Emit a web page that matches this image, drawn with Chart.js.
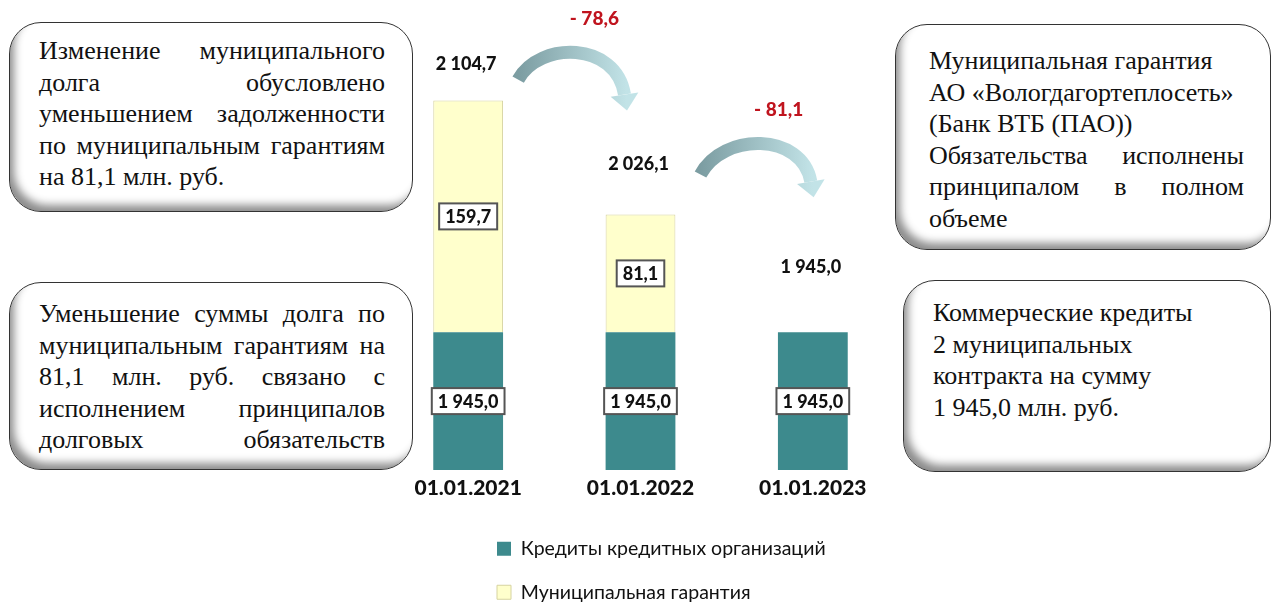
<!DOCTYPE html>
<html lang="ru">
<head>
<meta charset="UTF-8">
<title>Муниципальный долг</title>
<script src="https://cdn.jsdelivr.net/npm/chart.js@4.4.0/dist/chart.umd.min.js"></script>
<style>
    body { margin: 0; background: #fff; }
    .wrap { position: relative; width: 1272px; height: 603px; }
    #debtChart { position: absolute; left: 0; top: 0; }
    .note {
        position: absolute; box-sizing: border-box;
        border: 1px solid #333; border-radius: 32px; background: #fff;
        box-shadow: inset 7px -9px 9px -3px rgba(0,0,0,.45);
        font-family: 'Liberation Serif', 'DejaVu Serif', serif;
        font-size: 26px; line-height: 31.5px; color: #111;
    }
    .note div { white-space: nowrap; }
    .note .j { text-align: justify; text-align-last: justify; white-space: normal; }
</style>
</head>
<body>
<div class="wrap">
    <canvas id="debtChart" width="1272" height="603"></canvas>

    <div class="note" style="left:9px; top:22px; width:404px; height:190px; padding:12px 27px 0 29px;">
        <div class="j">Изменение муниципального</div>
        <div class="j">долга обусловлено</div>
        <div class="j">уменьшением задолженности</div>
        <div class="j">по муниципальным гарантиям</div>
        <div>на 81,1 млн. руб.</div>
    </div>
    <div class="note" style="left:9px; top:282px; width:404px; height:188px; padding:15px 27px 0 29px;">
        <div class="j">Уменьшение суммы долга по</div>
        <div class="j">муниципальным гарантиям на</div>
        <div class="j">81,1 млн. руб. связано с</div>
        <div class="j">исполнением принципалов</div>
        <div class="j">долговых обязательств</div>
    </div>
    <div class="note" style="left:895px; top:24px; width:376px; height:226px; padding:20px 26px 0 33px;">
        <div>Муниципальная гарантия</div>
        <div>АО «Вологдагортеплосеть»</div>
        <div>(Банк ВТБ (ПАО))</div>
        <div class="j">Обязательства исполнены</div>
        <div class="j">принципалом в полном</div>
        <div>объеме</div>
    </div>
    <div class="note" style="left:903px; top:280px; width:368px; height:192px; padding:16px 20px 0 29px;">
        <div>Коммерческие кредиты</div>
        <div>2 муниципальных</div>
        <div>контракта на сумму</div>
        <div>1 945,0 млн. руб.</div>
    </div>
</div>

<script>
    // данные, млн. руб.
    const dates = ['01.01.2021', '01.01.2022', '01.01.2023'];
    const bankCredits = [1945.0, 1945.0, 1945.0];
    const guarantees = [159.7, 81.1, 0];
    const seriesNames = ['Кредиты кредитных организаций', 'Муниципальная гарантия'];

    // 1 945,0
    function fmt(v) {
        const p = Math.abs(v).toFixed(1).split('.');
        return p[0].replace(/\B(?=(\d{3})+(?!\d))/g, ' ') + ',' + p[1];
    }

    // ось с разрывом: нижняя часть (0..breakAt) сжата до breakSize
    class BrokenScale extends Chart.LinearScale {
        toView(v) {
            const b = this.options.breakAt, s = this.options.breakSize;
            return v <= b ? v * s / b : s + (v - b);
        }
        fromView(t) {
            const b = this.options.breakAt, s = this.options.breakSize;
            return t <= s ? t * b / s : b + (t - s);
        }
        getPixelForValue(v) {
            if (v === null || v === undefined) return NaN;
            const lo = this.toView(this.min), hi = this.toView(this.max);
            return this.getPixelForDecimal((this.toView(v) - lo) / (hi - lo));
        }
        getValueForPixel(px) {
            const lo = this.toView(this.min), hi = this.toView(this.max);
            return this.fromView(lo + this.getDecimalForPixel(px) * (hi - lo));
        }
    }
    BrokenScale.id = 'broken';
    BrokenScale.defaults = Chart.LinearScale.defaults;
    Chart.register(BrokenScale);

    // подписи в рамках, итоги, стрелки с изменением
    const debtLabels = {
        id: 'debtLabels',
        afterDatasetsDraw(chart, args, opts) {
            const ctx = chart.ctx;
            const n = chart.data.labels.length;
            ctx.save();
            ctx.textAlign = 'center';
            ctx.textBaseline = 'middle';
            ctx.font = '900 18px Lato';

            chart.data.datasets.forEach((ds, di) => {
                chart.getDatasetMeta(di).data.forEach((bar, i) => {
                    const v = ds.data[i];
                    if (!v) return;
                    const y = (bar.y + bar.base) / 2;
                    const w = ctx.measureText(fmt(v)).width + 12;
                    ctx.fillStyle = '#fff';
                    ctx.fillRect(bar.x - w / 2, y - 13, w, 26);
                    ctx.strokeStyle = '#555';
                    ctx.lineWidth = 2;
                    ctx.strokeRect(bar.x - w / 2, y - 13, w, 26);
                    ctx.fillStyle = '#111';
                    ctx.fillText(fmt(v), bar.x, y + 1);
                });
            });

            const tops = [];
            for (let i = 0; i < n; i++) {
                const total = chart.data.datasets.reduce((s, ds) => s + (ds.data[i] || 0), 0);
                const x = chart.getDatasetMeta(0).data[i].x;
                const y = chart.scales.y.getPixelForValue(total) - opts.lift[i];
                tops.push({ x, y, total });
                ctx.fillStyle = '#111';
                ctx.fillText(fmt(total), x - 2, y);
            }

            for (let i = 0; i < n - 1; i++) {
                const a = opts.arrows[i];
                const x0 = tops[i].x + a[0], y0 = tops[i].y + a[1];
                const tx = tops[i + 1].x + a[2], ty = y0 + a[3];
                const ex = tx - 2, ey = ty - 15;
                const peak = y0 - a[4];
                const c = (8 * peak - y0 - ey) / 6;
                const w = ex - x0;
                const p2x = ex - 0.08 * w;

                const grad = ctx.createLinearGradient(x0, 0, tx, 0);
                grad.addColorStop(0, '#7c9da2');
                grad.addColorStop(1, '#c2e3e7');
                ctx.strokeStyle = grad;
                ctx.lineWidth = 13;
                ctx.beginPath();
                ctx.moveTo(x0, y0);
                ctx.bezierCurveTo(x0 + 0.2 * w, c, p2x, c, ex, ey);
                ctx.stroke();

                let dx = ex - p2x, dy = ey - c;
                const len = Math.hypot(dx, dy);
                dx /= len; dy /= len;
                ctx.fillStyle = grad;
                ctx.beginPath();
                ctx.moveTo(ex - dy * 14, ey + dx * 14);
                ctx.lineTo(ex + dx * 16, ey + dy * 16);
                ctx.lineTo(ex + dy * 14, ey - dx * 14);
                ctx.closePath();
                ctx.fill();

                ctx.fillStyle = '#c0141e';
                ctx.font = '900 19px Lato';
                ctx.fillText('- ' + fmt(tops[i].total - tops[i + 1].total), (x0 + tx) / 2 + 22, peak - 34);
                ctx.font = '900 18px Lato';
            }
            ctx.restore();
        }
    };

    // легенда столбиком, с левым краем под диаграммой
    const legendShift = {
        id: 'legendShift',
        afterLayout(chart, args, opts) {
            if (chart.legend) chart.legend.left = opts.left;
        }
    };

    const data = {
        labels: dates,
        datasets: [
            {
                label: seriesNames[0],
                data: bankCredits,
                backgroundColor: '#3d8a8d',
                borderWidth: 0,
                barPercentage: 0.405,
                categoryPercentage: 1
            },
            {
                label: seriesNames[1],
                data: guarantees,
                backgroundColor: '#ffffcc',
                borderColor: '#d6d3a0',
                borderWidth: 1,
                barPercentage: 0.405,
                categoryPercentage: 1
            }
        ]
    };

    new Chart(document.getElementById('debtChart'), {
        type: 'bar',
        data: data,
        plugins: [debtLabels, legendShift],
        options: {
            responsive: false,
            animation: false,
            layout: { padding: { top: 90, left: 382, right: 373, bottom: 0 } },
            plugins: {
                tooltip: { enabled: false },
                debtLabels: {
                    lift: [36, 50, 65],
                    // dx старта, dy старта, dx острия, dy острия, подъём дуги
                    arrows: [[50, 15, -14, 30, 27], [60, 10, 0, 22, 31]]
                },
                legendShift: { left: 473 },
                legend: {
                    position: 'bottom',
                    fullSize: false,
                    align: 'start',
                    maxHeight: 88,
                    labels: {
                        boxWidth: 14,
                        boxHeight: 14,
                        padding: 24,
                        color: '#111',
                        font: { family: 'Lato', size: 19.5 }
                    }
                }
            },
            scales: {
                x: {
                    stacked: true,
                    grid: { display: false, drawTicks: false },
                    border: { display: false },
                    ticks: { color: '#111', padding: 6, font: { family: 'Lato', size: 21, weight: '900' } },
                    afterFit(scale) { scale.height = 45; }
                },
                y: {
                    type: 'broken',
                    stacked: true,
                    display: false,
                    min: 0,
                    max: 2112,
                    breakAt: 1945,
                    breakSize: 95
                }
            }
        }
    });
</script>
</body>
</html>
